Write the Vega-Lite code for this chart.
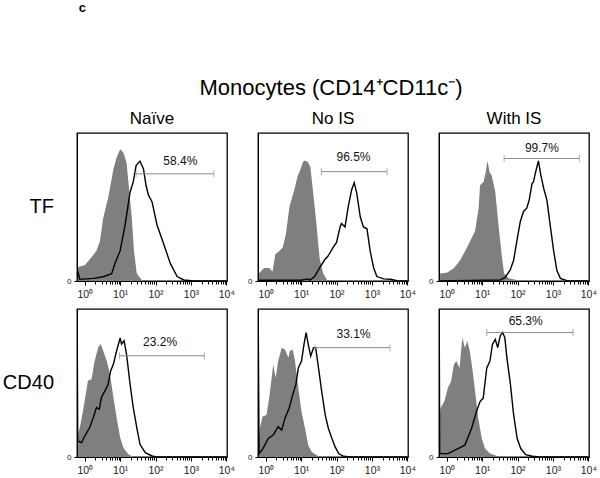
{
  "$schema": "https://vega.github.io/schema/vega-lite/v6.json",
  "padding": {"left": 2, "top": 2, "right": 5, "bottom": 5},
  "background": "white",
  "title": {"text": "c", "anchor": "start", "fontSize": 13, "fontWeight": "bold", "font": "Liberation Sans", "dx": 76, "offset": 62, "color": "black"},
  "config": {
    "font": "Liberation Sans",
    "view": {"stroke": "black", "strokeWidth": 1.3},
    "header": {"labelFont": "Liberation Sans", "titleFont": "Liberation Sans", "labelColor": "black", "titleColor": "black"}
  },
  "data": {"values": [
    {"row":"TF","col":"Naïve","kind":"iso","x":-0.19,"y":9.5},{"row":"TF","col":"Naïve","kind":"iso","x":0,"y":10.6},{"row":"TF","col":"Naïve","kind":"iso","x":0.19,"y":16},{"row":"TF","col":"Naïve","kind":"iso","x":0.33,"y":20.5},{"row":"TF","col":"Naïve","kind":"iso","x":0.43,"y":27},{"row":"TF","col":"Naïve","kind":"iso","x":0.52,"y":42.6},{"row":"TF","col":"Naïve","kind":"iso","x":0.66,"y":56},{"row":"TF","col":"Naïve","kind":"iso","x":0.81,"y":75.7},{"row":"TF","col":"Naïve","kind":"iso","x":0.9,"y":83.4},{"row":"TF","col":"Naïve","kind":"iso","x":1.0,"y":89},{"row":"TF","col":"Naïve","kind":"iso","x":1.09,"y":86.8},{"row":"TF","col":"Naïve","kind":"iso","x":1.18,"y":80},{"row":"TF","col":"Naïve","kind":"iso","x":1.26,"y":60},{"row":"TF","col":"Naïve","kind":"iso","x":1.33,"y":42.6},{"row":"TF","col":"Naïve","kind":"iso","x":1.39,"y":20.5},{"row":"TF","col":"Naïve","kind":"iso","x":1.47,"y":5},{"row":"TF","col":"Naïve","kind":"iso","x":1.61,"y":0.6},{"row":"TF","col":"Naïve","kind":"iso","x":1.85,"y":0},{"row":"TF","col":"Naïve","kind":"iso","x":4,"y":0},
    {"row":"TF","col":"Naïve","kind":"stain","x":-0.22,"y":8.4},{"row":"TF","col":"Naïve","kind":"stain","x":-0.14,"y":1.1},{"row":"TF","col":"Naïve","kind":"stain","x":0.24,"y":1.8},{"row":"TF","col":"Naïve","kind":"stain","x":0.52,"y":2.9},{"row":"TF","col":"Naïve","kind":"stain","x":0.76,"y":5},{"row":"TF","col":"Naïve","kind":"stain","x":0.85,"y":11.7},{"row":"TF","col":"Naïve","kind":"stain","x":1.0,"y":20.5},{"row":"TF","col":"Naïve","kind":"stain","x":1.14,"y":38},{"row":"TF","col":"Naïve","kind":"stain","x":1.28,"y":60},{"row":"TF","col":"Naïve","kind":"stain","x":1.37,"y":67},{"row":"TF","col":"Naïve","kind":"stain","x":1.45,"y":78},{"row":"TF","col":"Naïve","kind":"stain","x":1.52,"y":80},{"row":"TF","col":"Naïve","kind":"stain","x":1.56,"y":81},{"row":"TF","col":"Naïve","kind":"stain","x":1.66,"y":75.7},{"row":"TF","col":"Naïve","kind":"stain","x":1.73,"y":64.7},{"row":"TF","col":"Naïve","kind":"stain","x":1.8,"y":58},{"row":"TF","col":"Naïve","kind":"stain","x":1.9,"y":53.6},{"row":"TF","col":"Naïve","kind":"stain","x":2.04,"y":38},{"row":"TF","col":"Naïve","kind":"stain","x":2.23,"y":25},{"row":"TF","col":"Naïve","kind":"stain","x":2.42,"y":11.7},{"row":"TF","col":"Naïve","kind":"stain","x":2.61,"y":3},{"row":"TF","col":"Naïve","kind":"stain","x":2.8,"y":0.7},{"row":"TF","col":"Naïve","kind":"stain","x":3.08,"y":0},{"row":"TF","col":"Naïve","kind":"stain","x":4,"y":0},
    {"row":"TF","col":"Naïve","kind":"gate","x":1.45,"x2":3.65,"y":72.4,"pct":"58.4%","lx":2.7,"ly":81},

    {"row":"TF","col":"No IS","kind":"iso","x":-0.19,"y":5.3},{"row":"TF","col":"No IS","kind":"iso","x":-0.05,"y":8.8},{"row":"TF","col":"No IS","kind":"iso","x":0.1,"y":8.8},{"row":"TF","col":"No IS","kind":"iso","x":0.19,"y":6.5},{"row":"TF","col":"No IS","kind":"iso","x":0.27,"y":18},{"row":"TF","col":"No IS","kind":"iso","x":0.38,"y":20.3},{"row":"TF","col":"No IS","kind":"iso","x":0.48,"y":22.6},{"row":"TF","col":"No IS","kind":"iso","x":0.57,"y":31.9},{"row":"TF","col":"No IS","kind":"iso","x":0.67,"y":50.3},{"row":"TF","col":"No IS","kind":"iso","x":0.81,"y":61.9},{"row":"TF","col":"No IS","kind":"iso","x":0.9,"y":71},{"row":"TF","col":"No IS","kind":"iso","x":0.95,"y":73.4},{"row":"TF","col":"No IS","kind":"iso","x":1.05,"y":80.4},{"row":"TF","col":"No IS","kind":"iso","x":1.1,"y":81.5},{"row":"TF","col":"No IS","kind":"iso","x":1.19,"y":80.4},{"row":"TF","col":"No IS","kind":"iso","x":1.26,"y":77},{"row":"TF","col":"No IS","kind":"iso","x":1.33,"y":61.9},{"row":"TF","col":"No IS","kind":"iso","x":1.43,"y":38.8},{"row":"TF","col":"No IS","kind":"iso","x":1.52,"y":15.7},{"row":"TF","col":"No IS","kind":"iso","x":1.62,"y":5.3},{"row":"TF","col":"No IS","kind":"iso","x":1.73,"y":0.7},{"row":"TF","col":"No IS","kind":"iso","x":1.9,"y":0},{"row":"TF","col":"No IS","kind":"iso","x":4,"y":0},
    {"row":"TF","col":"No IS","kind":"stain","x":-0.22,"y":0.5},{"row":"TF","col":"No IS","kind":"stain","x":1.0,"y":0.5},{"row":"TF","col":"No IS","kind":"stain","x":1.19,"y":1.4},{"row":"TF","col":"No IS","kind":"stain","x":1.25,"y":0.6},{"row":"TF","col":"No IS","kind":"stain","x":1.38,"y":3},{"row":"TF","col":"No IS","kind":"stain","x":1.52,"y":8.8},{"row":"TF","col":"No IS","kind":"stain","x":1.67,"y":14.5},{"row":"TF","col":"No IS","kind":"stain","x":1.76,"y":16.9},{"row":"TF","col":"No IS","kind":"stain","x":1.9,"y":22.6},{"row":"TF","col":"No IS","kind":"stain","x":2.0,"y":26},{"row":"TF","col":"No IS","kind":"stain","x":2.1,"y":36.5},{"row":"TF","col":"No IS","kind":"stain","x":2.14,"y":38.8},{"row":"TF","col":"No IS","kind":"stain","x":2.24,"y":36.5},{"row":"TF","col":"No IS","kind":"stain","x":2.33,"y":50.3},{"row":"TF","col":"No IS","kind":"stain","x":2.43,"y":61.9},{"row":"TF","col":"No IS","kind":"stain","x":2.5,"y":66.5},{"row":"TF","col":"No IS","kind":"stain","x":2.57,"y":59.6},{"row":"TF","col":"No IS","kind":"stain","x":2.67,"y":43.4},{"row":"TF","col":"No IS","kind":"stain","x":2.76,"y":36.5},{"row":"TF","col":"No IS","kind":"stain","x":2.86,"y":35.3},{"row":"TF","col":"No IS","kind":"stain","x":2.95,"y":20.3},{"row":"TF","col":"No IS","kind":"stain","x":3.05,"y":8.8},{"row":"TF","col":"No IS","kind":"stain","x":3.14,"y":3},{"row":"TF","col":"No IS","kind":"stain","x":3.33,"y":1.4},{"row":"TF","col":"No IS","kind":"stain","x":3.52,"y":1.2},{"row":"TF","col":"No IS","kind":"stain","x":3.71,"y":0.2},{"row":"TF","col":"No IS","kind":"stain","x":4,"y":0},
    {"row":"TF","col":"No IS","kind":"gate","x":1.57,"x2":3.43,"y":73.9,"pct":"96.5%","lx":2.48,"ly":84},

    {"row":"TF","col":"With IS","kind":"iso","x":-0.19,"y":5},{"row":"TF","col":"With IS","kind":"iso","x":0,"y":5.5},{"row":"TF","col":"With IS","kind":"iso","x":0.19,"y":8.4},{"row":"TF","col":"With IS","kind":"iso","x":0.38,"y":14},{"row":"TF","col":"With IS","kind":"iso","x":0.57,"y":22.7},{"row":"TF","col":"With IS","kind":"iso","x":0.71,"y":29.4},{"row":"TF","col":"With IS","kind":"iso","x":0.8,"y":33.8},{"row":"TF","col":"With IS","kind":"iso","x":0.9,"y":49},{"row":"TF","col":"With IS","kind":"iso","x":0.94,"y":64.7},{"row":"TF","col":"With IS","kind":"iso","x":1.04,"y":66.9},{"row":"TF","col":"With IS","kind":"iso","x":1.1,"y":73.5},{"row":"TF","col":"With IS","kind":"iso","x":1.15,"y":81.2},{"row":"TF","col":"With IS","kind":"iso","x":1.21,"y":73.5},{"row":"TF","col":"With IS","kind":"iso","x":1.27,"y":71.3},{"row":"TF","col":"With IS","kind":"iso","x":1.37,"y":60.3},{"row":"TF","col":"With IS","kind":"iso","x":1.46,"y":38.2},{"row":"TF","col":"With IS","kind":"iso","x":1.56,"y":16},{"row":"TF","col":"With IS","kind":"iso","x":1.62,"y":5},{"row":"TF","col":"With IS","kind":"iso","x":1.75,"y":1.8},{"row":"TF","col":"With IS","kind":"iso","x":1.98,"y":0.7},{"row":"TF","col":"With IS","kind":"iso","x":2.26,"y":0},{"row":"TF","col":"With IS","kind":"iso","x":4,"y":0},
    {"row":"TF","col":"With IS","kind":"stain","x":-0.22,"y":0},{"row":"TF","col":"With IS","kind":"stain","x":1.51,"y":0.7},{"row":"TF","col":"With IS","kind":"stain","x":1.65,"y":2.4},{"row":"TF","col":"With IS","kind":"stain","x":1.79,"y":7.3},{"row":"TF","col":"With IS","kind":"stain","x":1.89,"y":14},{"row":"TF","col":"With IS","kind":"stain","x":1.98,"y":27},{"row":"TF","col":"With IS","kind":"stain","x":2.08,"y":40.4},{"row":"TF","col":"With IS","kind":"stain","x":2.17,"y":47},{"row":"TF","col":"With IS","kind":"stain","x":2.26,"y":49.2},{"row":"TF","col":"With IS","kind":"stain","x":2.33,"y":54.7},{"row":"TF","col":"With IS","kind":"stain","x":2.41,"y":65.8},{"row":"TF","col":"With IS","kind":"stain","x":2.45,"y":66.9},{"row":"TF","col":"With IS","kind":"stain","x":2.51,"y":73.5},{"row":"TF","col":"With IS","kind":"stain","x":2.59,"y":81.2},{"row":"TF","col":"With IS","kind":"stain","x":2.66,"y":71.3},{"row":"TF","col":"With IS","kind":"stain","x":2.74,"y":62.5},{"row":"TF","col":"With IS","kind":"stain","x":2.83,"y":54.7},{"row":"TF","col":"With IS","kind":"stain","x":2.92,"y":38.2},{"row":"TF","col":"With IS","kind":"stain","x":3.02,"y":20.5},{"row":"TF","col":"With IS","kind":"stain","x":3.11,"y":7.3},{"row":"TF","col":"With IS","kind":"stain","x":3.21,"y":1.8},{"row":"TF","col":"With IS","kind":"stain","x":3.4,"y":0.2},{"row":"TF","col":"With IS","kind":"stain","x":4,"y":0},
    {"row":"TF","col":"With IS","kind":"gate","x":1.62,"x2":3.75,"y":82.8,"pct":"99.7%","lx":2.69,"ly":90},

    {"row":"CD40","col":"Naïve","kind":"iso","x":-0.19,"y":15.3},{"row":"CD40","col":"Naïve","kind":"iso","x":-0.14,"y":19.9},{"row":"CD40","col":"Naïve","kind":"iso","x":-0.05,"y":31.2},{"row":"CD40","col":"Naïve","kind":"iso","x":0.09,"y":51.5},{"row":"CD40","col":"Naïve","kind":"iso","x":0.19,"y":52.6},{"row":"CD40","col":"Naïve","kind":"iso","x":0.28,"y":65},{"row":"CD40","col":"Naïve","kind":"iso","x":0.38,"y":74},{"row":"CD40","col":"Naïve","kind":"iso","x":0.45,"y":76.3},{"row":"CD40","col":"Naïve","kind":"iso","x":0.52,"y":71.8},{"row":"CD40","col":"Naïve","kind":"iso","x":0.62,"y":65},{"row":"CD40","col":"Naïve","kind":"iso","x":0.71,"y":56},{"row":"CD40","col":"Naïve","kind":"iso","x":0.81,"y":40.2},{"row":"CD40","col":"Naïve","kind":"iso","x":0.9,"y":26.6},{"row":"CD40","col":"Naïve","kind":"iso","x":1.0,"y":13.1},{"row":"CD40","col":"Naïve","kind":"iso","x":1.09,"y":6.3},{"row":"CD40","col":"Naïve","kind":"iso","x":1.23,"y":1.8},{"row":"CD40","col":"Naïve","kind":"iso","x":1.37,"y":0},{"row":"CD40","col":"Naïve","kind":"iso","x":4,"y":0},
    {"row":"CD40","col":"Naïve","kind":"stain","x":-0.215,"y":98},{"row":"CD40","col":"Naïve","kind":"stain","x":-0.2,"y":10.8},{"row":"CD40","col":"Naïve","kind":"stain","x":-0.09,"y":9.7},{"row":"CD40","col":"Naïve","kind":"stain","x":0,"y":14.2},{"row":"CD40","col":"Naïve","kind":"stain","x":0.14,"y":19.9},{"row":"CD40","col":"Naïve","kind":"stain","x":0.24,"y":26.6},{"row":"CD40","col":"Naïve","kind":"stain","x":0.33,"y":33.4},{"row":"CD40","col":"Naïve","kind":"stain","x":0.41,"y":32.3},{"row":"CD40","col":"Naïve","kind":"stain","x":0.47,"y":40.2},{"row":"CD40","col":"Naïve","kind":"stain","x":0.57,"y":44.7},{"row":"CD40","col":"Naïve","kind":"stain","x":0.66,"y":49.2},{"row":"CD40","col":"Naïve","kind":"stain","x":0.73,"y":58.2},{"row":"CD40","col":"Naïve","kind":"stain","x":0.81,"y":62.8},{"row":"CD40","col":"Naïve","kind":"stain","x":0.9,"y":71.8},{"row":"CD40","col":"Naïve","kind":"stain","x":1.0,"y":80.4},{"row":"CD40","col":"Naïve","kind":"stain","x":1.04,"y":76.3},{"row":"CD40","col":"Naïve","kind":"stain","x":1.11,"y":78.6},{"row":"CD40","col":"Naïve","kind":"stain","x":1.18,"y":69.5},{"row":"CD40","col":"Naïve","kind":"stain","x":1.28,"y":49.2},{"row":"CD40","col":"Naïve","kind":"stain","x":1.37,"y":33.4},{"row":"CD40","col":"Naïve","kind":"stain","x":1.47,"y":19.9},{"row":"CD40","col":"Naïve","kind":"stain","x":1.56,"y":8.6},{"row":"CD40","col":"Naïve","kind":"stain","x":1.71,"y":2.9},{"row":"CD40","col":"Naïve","kind":"stain","x":1.9,"y":0.7},{"row":"CD40","col":"Naïve","kind":"stain","x":2.04,"y":0},{"row":"CD40","col":"Naïve","kind":"stain","x":4,"y":0},
    {"row":"CD40","col":"Naïve","kind":"gate","x":0.98,"x2":3.38,"y":68.4,"pct":"23.2%","lx":2.13,"ly":77.4},

    {"row":"CD40","col":"No IS","kind":"iso","x":-0.19,"y":12},{"row":"CD40","col":"No IS","kind":"iso","x":-0.17,"y":19.3},{"row":"CD40","col":"No IS","kind":"iso","x":-0.09,"y":27.3},{"row":"CD40","col":"No IS","kind":"iso","x":0.02,"y":28.4},{"row":"CD40","col":"No IS","kind":"iso","x":0.11,"y":42},{"row":"CD40","col":"No IS","kind":"iso","x":0.21,"y":62.5},{"row":"CD40","col":"No IS","kind":"iso","x":0.28,"y":53.4},{"row":"CD40","col":"No IS","kind":"iso","x":0.35,"y":64.8},{"row":"CD40","col":"No IS","kind":"iso","x":0.45,"y":73.9},{"row":"CD40","col":"No IS","kind":"iso","x":0.54,"y":72.7},{"row":"CD40","col":"No IS","kind":"iso","x":0.64,"y":67},{"row":"CD40","col":"No IS","kind":"iso","x":0.68,"y":71.6},{"row":"CD40","col":"No IS","kind":"iso","x":0.76,"y":72.7},{"row":"CD40","col":"No IS","kind":"iso","x":0.82,"y":65.9},{"row":"CD40","col":"No IS","kind":"iso","x":0.92,"y":46.6},{"row":"CD40","col":"No IS","kind":"iso","x":1.01,"y":30.7},{"row":"CD40","col":"No IS","kind":"iso","x":1.11,"y":19.3},{"row":"CD40","col":"No IS","kind":"iso","x":1.2,"y":8},{"row":"CD40","col":"No IS","kind":"iso","x":1.3,"y":3.4},{"row":"CD40","col":"No IS","kind":"iso","x":1.44,"y":1.1},{"row":"CD40","col":"No IS","kind":"iso","x":1.54,"y":0},{"row":"CD40","col":"No IS","kind":"iso","x":4,"y":0},
    {"row":"CD40","col":"No IS","kind":"stain","x":-0.215,"y":98},{"row":"CD40","col":"No IS","kind":"stain","x":-0.19,"y":2.3},{"row":"CD40","col":"No IS","kind":"stain","x":-0.08,"y":5.7},{"row":"CD40","col":"No IS","kind":"stain","x":0.07,"y":12.5},{"row":"CD40","col":"No IS","kind":"stain","x":0.21,"y":14.8},{"row":"CD40","col":"No IS","kind":"stain","x":0.35,"y":20.5},{"row":"CD40","col":"No IS","kind":"stain","x":0.45,"y":18.2},{"row":"CD40","col":"No IS","kind":"stain","x":0.54,"y":26.1},{"row":"CD40","col":"No IS","kind":"stain","x":0.66,"y":33},{"row":"CD40","col":"No IS","kind":"stain","x":0.76,"y":42},{"row":"CD40","col":"No IS","kind":"stain","x":0.85,"y":48.9},{"row":"CD40","col":"No IS","kind":"stain","x":0.92,"y":60.2},{"row":"CD40","col":"No IS","kind":"stain","x":1.01,"y":64.8},{"row":"CD40","col":"No IS","kind":"stain","x":1.08,"y":76.1},{"row":"CD40","col":"No IS","kind":"stain","x":1.14,"y":84.1},{"row":"CD40","col":"No IS","kind":"stain","x":1.2,"y":76.1},{"row":"CD40","col":"No IS","kind":"stain","x":1.27,"y":68.2},{"row":"CD40","col":"No IS","kind":"stain","x":1.35,"y":73.9},{"row":"CD40","col":"No IS","kind":"stain","x":1.41,"y":73.9},{"row":"CD40","col":"No IS","kind":"stain","x":1.49,"y":60.2},{"row":"CD40","col":"No IS","kind":"stain","x":1.58,"y":44.3},{"row":"CD40","col":"No IS","kind":"stain","x":1.68,"y":28.4},{"row":"CD40","col":"No IS","kind":"stain","x":1.77,"y":19.3},{"row":"CD40","col":"No IS","kind":"stain","x":1.87,"y":12.5},{"row":"CD40","col":"No IS","kind":"stain","x":1.96,"y":6.8},{"row":"CD40","col":"No IS","kind":"stain","x":2.06,"y":2.3},{"row":"CD40","col":"No IS","kind":"stain","x":2.2,"y":0.5},{"row":"CD40","col":"No IS","kind":"stain","x":2.39,"y":0},{"row":"CD40","col":"No IS","kind":"stain","x":4,"y":0},
    {"row":"CD40","col":"No IS","kind":"gate","x":1.39,"x2":3.51,"y":73.9,"pct":"33.1%","lx":2.48,"ly":83},

    {"row":"CD40","col":"With IS","kind":"iso","x":-0.19,"y":30},{"row":"CD40","col":"With IS","kind":"iso","x":-0.18,"y":33},{"row":"CD40","col":"With IS","kind":"iso","x":-0.07,"y":37.5},{"row":"CD40","col":"With IS","kind":"iso","x":0.03,"y":46.6},{"row":"CD40","col":"With IS","kind":"iso","x":0.12,"y":51},{"row":"CD40","col":"With IS","kind":"iso","x":0.2,"y":62.5},{"row":"CD40","col":"With IS","kind":"iso","x":0.27,"y":64.8},{"row":"CD40","col":"With IS","kind":"iso","x":0.36,"y":60.2},{"row":"CD40","col":"With IS","kind":"iso","x":0.44,"y":80.7},{"row":"CD40","col":"With IS","kind":"iso","x":0.51,"y":73.9},{"row":"CD40","col":"With IS","kind":"iso","x":0.58,"y":78.4},{"row":"CD40","col":"With IS","kind":"iso","x":0.65,"y":71.6},{"row":"CD40","col":"With IS","kind":"iso","x":0.72,"y":60.2},{"row":"CD40","col":"With IS","kind":"iso","x":0.79,"y":46.6},{"row":"CD40","col":"With IS","kind":"iso","x":0.89,"y":26.1},{"row":"CD40","col":"With IS","kind":"iso","x":0.99,"y":12.5},{"row":"CD40","col":"With IS","kind":"iso","x":1.08,"y":5.7},{"row":"CD40","col":"With IS","kind":"iso","x":1.22,"y":2.3},{"row":"CD40","col":"With IS","kind":"iso","x":1.42,"y":0.7},{"row":"CD40","col":"With IS","kind":"iso","x":1.56,"y":0},{"row":"CD40","col":"With IS","kind":"iso","x":4,"y":0},
    {"row":"CD40","col":"With IS","kind":"stain","x":-0.215,"y":98},{"row":"CD40","col":"With IS","kind":"stain","x":-0.2,"y":2.3},{"row":"CD40","col":"With IS","kind":"stain","x":0.03,"y":2.3},{"row":"CD40","col":"With IS","kind":"stain","x":0.32,"y":5.7},{"row":"CD40","col":"With IS","kind":"stain","x":0.51,"y":8},{"row":"CD40","col":"With IS","kind":"stain","x":0.7,"y":19.3},{"row":"CD40","col":"With IS","kind":"stain","x":0.84,"y":30.7},{"row":"CD40","col":"With IS","kind":"stain","x":0.94,"y":37.5},{"row":"CD40","col":"With IS","kind":"stain","x":1.03,"y":39.8},{"row":"CD40","col":"With IS","kind":"stain","x":1.13,"y":60.2},{"row":"CD40","col":"With IS","kind":"stain","x":1.22,"y":64.8},{"row":"CD40","col":"With IS","kind":"stain","x":1.29,"y":76.1},{"row":"CD40","col":"With IS","kind":"stain","x":1.37,"y":79.5},{"row":"CD40","col":"With IS","kind":"stain","x":1.44,"y":73.9},{"row":"CD40","col":"With IS","kind":"stain","x":1.51,"y":81.8},{"row":"CD40","col":"With IS","kind":"stain","x":1.58,"y":84.1},{"row":"CD40","col":"With IS","kind":"stain","x":1.64,"y":80.7},{"row":"CD40","col":"With IS","kind":"stain","x":1.7,"y":67},{"row":"CD40","col":"With IS","kind":"stain","x":1.8,"y":48.9},{"row":"CD40","col":"With IS","kind":"stain","x":1.89,"y":28.4},{"row":"CD40","col":"With IS","kind":"stain","x":1.99,"y":12.5},{"row":"CD40","col":"With IS","kind":"stain","x":2.09,"y":5.7},{"row":"CD40","col":"With IS","kind":"stain","x":2.23,"y":1.6},{"row":"CD40","col":"With IS","kind":"stain","x":2.42,"y":0.5},{"row":"CD40","col":"With IS","kind":"stain","x":2.61,"y":0},{"row":"CD40","col":"With IS","kind":"stain","x":4,"y":0},
    {"row":"CD40","col":"With IS","kind":"gate","x":1.13,"x2":3.57,"y":84.1,"pct":"65.3%","lx":2.23,"ly":91.6}
  ]},
  "facet": {
    "row": {"field": "row", "type": "nominal", "sort": ["TF", "CD40"], "title": null,
      "header": {"labelAngle": 0, "labelAlign": "left", "labelFontSize": 20, "labelPadding": 23, "labelBaseline": "middle"}},
    "column": {"field": "col", "type": "nominal", "sort": ["Naïve", "No IS", "With IS"], "title": "Monocytes (CD14⁺CD11c⁻)",
      "header": {"titleFontSize": 22, "titleFontWeight": "normal", "titlePadding": 0, "labelFontSize": 17, "labelPadding": 5}}
  },
  "spacing": {"row": 28, "column": 31},
  "bounds": "flush",
  "resolve": {"axis": {"x": "independent", "y": "independent"}},
  "spec": {
    "width": 150,
    "height": 148,
    "encoding": {
      "x": {"field": "x", "type": "quantitative", "title": null,
        "scale": {"domain": [-0.22, 4.02], "nice": false, "zero": false},
        "axis": {"values": [0, 0.301, 0.477, 0.602, 0.699, 0.778, 0.845, 0.903, 0.954, 1, 1.301, 1.477, 1.602, 1.699, 1.778, 1.845, 1.903, 1.954, 2, 2.301, 2.477, 2.602, 2.699, 2.778, 2.845, 2.903, 2.954, 3, 3.301, 3.477, 3.602, 3.699, 3.778, 3.845, 3.903, 3.954, 4],
          "labelExpr": "datum.value % 1 === 0 ? '10' + ['⁰','¹','²','³','⁴'][datum.value] : ''",
          "labelFontSize": 10.5, "labelColor": "#222", "labelPadding": 4, "labelFont": "Liberation Sans",
          "tickSize": {"condition": {"test": "datum.value % 1 === 0", "value": 4}, "value": 3},
          "tickColor": "black", "domainColor": "black", "grid": false, "labelOverlap": false, "labelFlush": false}},
      "y": {"field": "y", "type": "quantitative", "title": null,
        "scale": {"domain": [0, 100], "nice": false},
        "axis": {"values": [0], "labelFontSize": 8, "labelColor": "#222", "tickSize": 3, "tickColor": "black", "domainColor": "black", "grid": false, "labelPadding": 3}}
    },
    "layer": [
      {"transform": [{"filter": "datum.kind === 'iso'"}], "mark": {"type": "area", "color": "#7f7f7f", "clip": true, "interpolate": "linear"}},
      {"transform": [{"filter": "datum.kind === 'stain'"}], "mark": {"type": "line", "color": "black", "strokeWidth": 1.4, "clip": true}},
      {"transform": [{"filter": "datum.kind === 'gate'"}], "mark": {"type": "rule", "color": "#8c8c8c", "strokeWidth": 1}, "encoding": {"x2": {"field": "x2"}}},
      {"transform": [{"filter": "datum.kind === 'gate'"}], "mark": {"type": "tick", "orient": "vertical", "color": "#8c8c8c", "size": 7, "thickness": 1}},
      {"transform": [{"filter": "datum.kind === 'gate'"}], "mark": {"type": "tick", "orient": "vertical", "color": "#8c8c8c", "size": 7, "thickness": 1}, "encoding": {"x": {"field": "x2", "type": "quantitative"}}},
      {"transform": [{"filter": "datum.kind === 'gate'"}], "mark": {"type": "text", "fontSize": 12, "color": "#111", "baseline": "middle"}, "encoding": {"x": {"field": "lx", "type": "quantitative"}, "y": {"field": "ly", "type": "quantitative"}, "text": {"field": "pct"}}}
    ]
  }
}
